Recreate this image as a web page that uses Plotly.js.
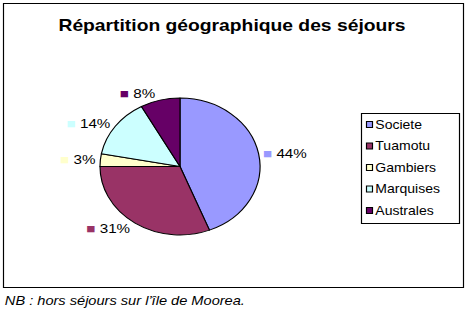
<!DOCTYPE html>
<html>
<head>
<meta charset="utf-8">
<script src="https://cdn.plot.ly/plotly-3.0.1.min.js"></script>
<style>
html,body{margin:0;padding:0;background:#fff;overflow:hidden;width:470px;height:312px;}
#chart{width:402px;height:312px;transform:scaleX(1.16915);transform-origin:0 0;}
</style>
</head>
<body>
<div id="chart"></div>
<script>
const categories = ["Societe", "Tuamotu", "Gambiers", "Marquises", "Australes"];
const values = [44, 31, 3, 14, 8];
const colors = ["#9999FF", "#993366", "#FFFFCC", "#CCFFFF", "#660066"];
const titleText = "Répartition géographique des séjours";
const noteText = "NB : hors séjours sur l’île de Moorea.";

const FONT = "Liberation Sans, Arial, sans-serif";
const W0 = 402, H = 312, OUTW = 470;
// positions expressed in final (stretched) pixels
const px = (x) => x / OUTW;
const py = (y) => 1 - y / H;

const trace = {
  type: "pie",
  labels: categories,
  values: values,
  sort: false,
  direction: "clockwise",
  rotation: 0,
  showlegend: false,
  marker: { colors: colors, line: { color: "#000", width: 1 } },
  customdata: colors,
  texttemplate: "<span style='color:%{customdata}'>■</span> %{percent:.0%}",
  textposition: "outside",
  textfont: { family: FONT, size: 13, color: "#000" },
  hoverinfo: "none",
  domain: { x: [px(100), px(260)], y: [py(235), py(98)] }
};

const shapes = [
  { type: "rect", xref: "paper", yref: "paper",
    x0: px(3.5), x1: px(463.5), y0: py(287.5), y1: py(3.5),
    line: { color: "#000", width: 1 } },
  { type: "rect", xref: "paper", yref: "paper",
    x0: px(361.5), x1: px(459.5), y0: py(223.5), y1: py(113.5),
    line: { color: "#000", width: 1 }, fillcolor: "#fff" }
];
const annotations = [
  { xref: "paper", yref: "paper", x: px(2), y: py(301),
    xanchor: "left", yanchor: "middle", showarrow: false,
    text: "<i>" + noteText + "</i>",
    font: { family: FONT, size: 12.5, color: "#000" } }
];
// legend drawn from the category / colour arrays
const legTop = 124.5, legStep = 21.5;
categories.forEach((name, i) => {
  const cy = legTop + i * legStep;
  shapes.push({ type: "rect", xref: "paper", yref: "paper",
    x0: px(366.5), x1: px(372.5), y0: py(cy + 3), y1: py(cy - 3),
    fillcolor: colors[i], line: { color: "#000", width: 1 } });
  annotations.push({ xref: "paper", yref: "paper", x: px(373.5), y: py(cy),
    xanchor: "left", yanchor: "middle", showarrow: false, text: name,
    font: { family: FONT, size: 12, color: "#000" } });
});

const layout = {
  width: W0, height: H,
  margin: { l: 0, r: 0, t: 0, b: 0 },
  paper_bgcolor: "#fff",
  font: { family: FONT, size: 13, color: "#000" },
  title: {
    text: "<b>" + titleText + "</b>",
    font: { family: FONT, size: 16.5, color: "#000" },
    x: px(232), xanchor: "center", y: py(25), yanchor: "middle"
  },
  showlegend: false,
  shapes: shapes,
  annotations: annotations
};

Plotly.newPlot("chart", [trace], layout, { displayModeBar: false, staticPlot: true });
</script>
</body>
</html>
